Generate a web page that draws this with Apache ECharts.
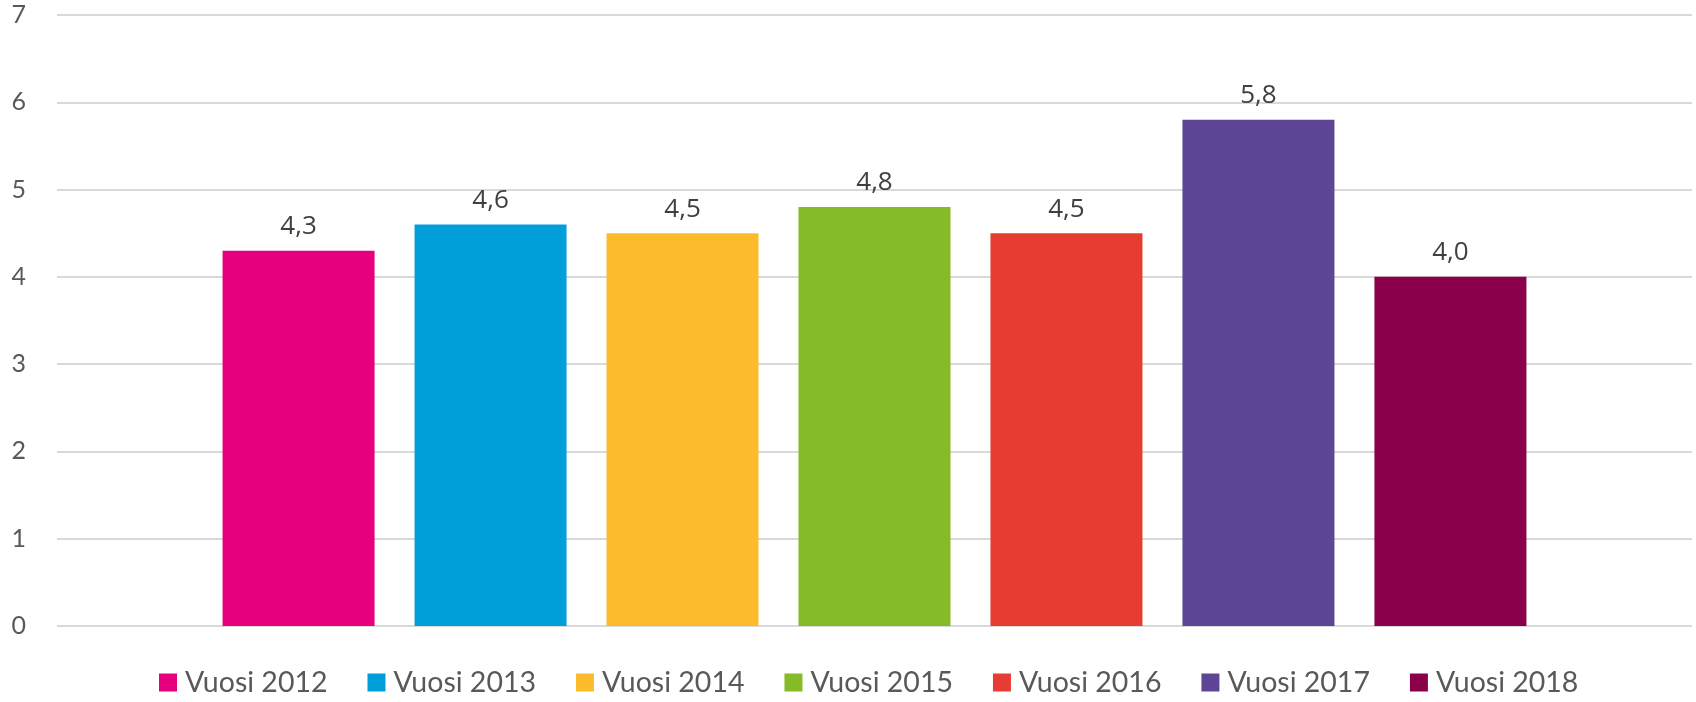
<!DOCTYPE html>
<html>
<head>
<meta charset="utf-8">
<script src="https://cdn.jsdelivr.net/npm/echarts@6/dist/echarts.min.js"></script>
<style>html,body{margin:0;padding:0;background:#fff}#c{width:1696px;height:702px}</style>
</head>
<body>
<div id="c"></div>
<script>
const seriesNames = ['Vuosi 2012','Vuosi 2013','Vuosi 2014','Vuosi 2015','Vuosi 2016','Vuosi 2017','Vuosi 2018'];
const values = [4.3, 4.6, 4.5, 4.8, 4.5, 5.8, 4.0];
const colors = ['#E6007E','#009FD9','#FBBB2B','#84BB26','#E63C32','#5E4696','#8B004A'];
const categories = [''];

const chart = echarts.init(document.getElementById('c'), null, {renderer:'canvas'});
const series = seriesNames.map((n, i) => ({
  name: n,
  type: 'bar',
  data: [values[i]],
  barWidth: 152,
  barGap: '26.3%',
  itemStyle: {color: colors[i]},
  label: {
    show: true,
    position: 'top',
    distance: 11,
    color: '#404040',
    fontFamily: 'Open Sans',
    fontSize: 26,
    formatter: p => p.value.toFixed(1).replace('.', ',')
  }
}));
chart.setOption({
  animation: false,
  grid: {left: 57, right: 4, top: 15, bottom: 76, containLabel: false},
  legend: {
    bottom: 0,
    left: 154,
    itemWidth: 18,
    itemHeight: 18,
    itemGap: 40,
    icon: 'rect',
    textStyle: {color: '#595959', fontFamily: 'Lato', fontSize: 28.5, padding: [0, 0, 0, 3]},
    data: seriesNames
  },
  xAxis: {
    type: 'category',
    data: categories,
    axisLine: {show: false},
    axisTick: {show: false},
    axisLabel: {show: false}
  },
  yAxis: {
    type: 'value',
    min: 0, max: 7, interval: 1,
    axisLine: {show: false},
    axisTick: {show: false},
    axisLabel: {color: '#595959', fontFamily: 'Lato', fontSize: 25, margin: 31},
    splitLine: {lineStyle: {color: '#D9D9D9', width: 2}}
  },
  series: series
});
</script>
</body>
</html>
